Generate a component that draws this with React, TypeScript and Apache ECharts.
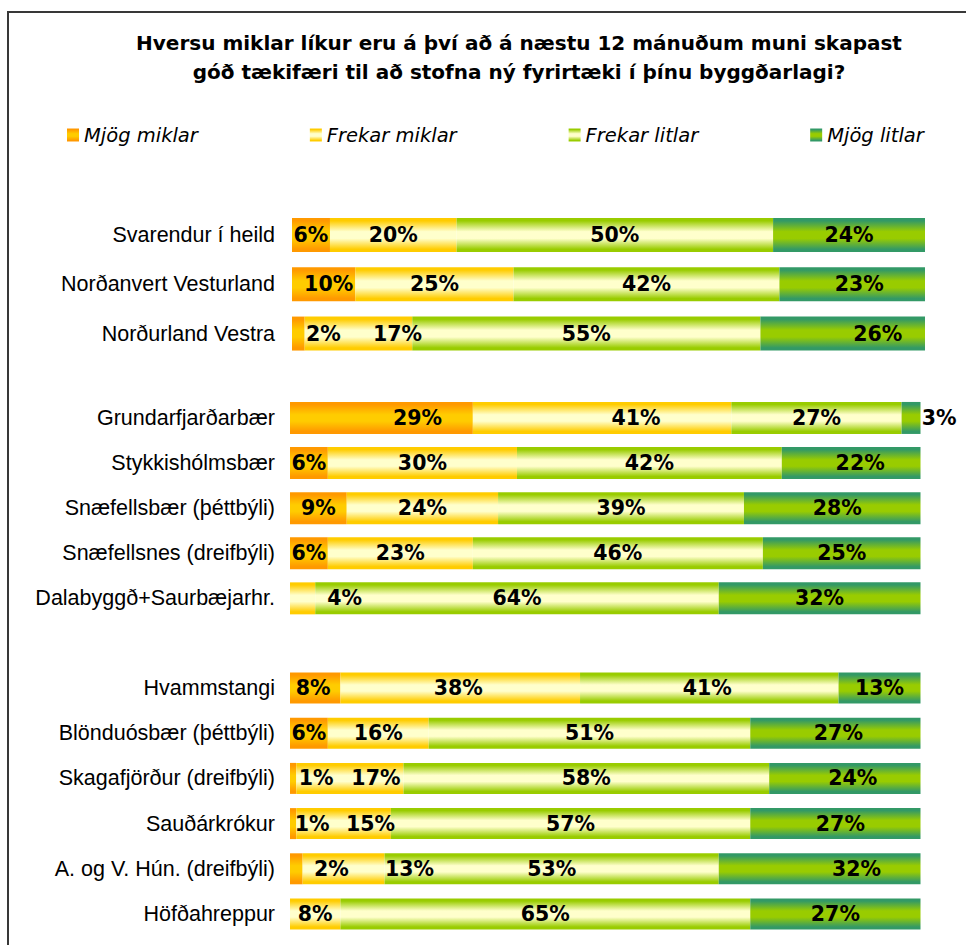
import React, { useEffect, useRef } from "react";
import * as echarts from "echarts";

// ---------- data ----------
const seriesNames = ["Mjög miklar", "Frekar miklar", "Frekar litlar", "Mjög litlar"];

const group1Categories = ["Svarendur í heild", "Norðanvert Vesturland", "Norðurland Vestra"];
const group1MjogMiklar = [6, 10, 2];
const group1FrekarMiklar = [20, 25, 17];
const group1FrekarLitlar = [50, 42, 55];
const group1MjogLitlar = [24, 23, 26];

const group2Categories = [
  "Grundarfjarðarbær",
  "Stykkishólmsbær",
  "Snæfellsbær (þéttbýli)",
  "Snæfellsnes (dreifbýli)",
  "Dalabyggð+Saurbæjarhr.",
];
const group2MjogMiklar = [29, 6, 9, 6, 0];
const group2FrekarMiklar = [41, 30, 24, 23, 4];
const group2FrekarLitlar = [27, 42, 39, 46, 64];
const group2MjogLitlar = [3, 22, 28, 25, 32];

const group3Categories = [
  "Hvammstangi",
  "Blönduósbær (þéttbýli)",
  "Skagafjörður (dreifbýli)",
  "Sauðárkrókur",
  "A. og V. Hún. (dreifbýli)",
  "Höfðahreppur",
];
const group3MjogMiklar = [8, 6, 1, 1, 2, 0];
const group3FrekarMiklar = [38, 16, 17, 15, 13, 8];
const group3FrekarLitlar = [41, 51, 58, 57, 53, 65];
const group3MjogLitlar = [13, 27, 24, 27, 32, 27];

const titleText =
  "Hversu miklar líkur eru á því að á næstu 12 mánuðum muni skapast\ngóð tækifæri til að stofna ný fyrirtæki í þínu byggðarlagi?";

// ---------- presentation (label nudges in px, per row: [MM, FM, FL, ML]) ----------
const group1LabelNudge = [
  [0, 0, 0, 0],
  [5, 0, 0, 7],
  [25, 39, 0, 35],
];
const group2LabelNudge = [
  [36, 34, 0, 28],
  [0, 0, 0, 9],
  [0, 0, 0, 5],
  [0, 0, 0, 0],
  [0, 42, 0, 0],
];
const group3LabelNudge = [
  [-2, -2, -2, 0],
  [0, 0, 0, 3],
  [23, 26, 0, 8],
  [19, 27, 0, 5],
  [35, 66, 0, 37],
  [0, 0, 0, 0],
];

const edgeColors = ["#FF9900", "#FFCC00", "#99CC00", "#339966"];
const midColors = ["#FFCC00", "#FFFFCC", "#FFFFCC", "#99CC00"];

function gradient(i: number) {
  return new echarts.graphic.LinearGradient(0, 0, 0, 1, [
    { offset: 0, color: edgeColors[i] },
    { offset: 0.08, color: edgeColors[i] },
    { offset: 0.4, color: midColors[i] },
    { offset: 0.6, color: midColors[i] },
    { offset: 0.92, color: edgeColors[i] },
    { offset: 1, color: edgeColors[i] },
  ]);
}

const LABEL_FONT = "'DejaVu Sans', Verdana, sans-serif";
const AXIS_FONT = "'Liberation Sans', Arial, sans-serif";

export default function App() {
  const ref = useRef<HTMLDivElement>(null);

  useEffect(() => {
    if (!ref.current) return;
    const chart = echarts.init(ref.current, null, { renderer: "svg" });

    const groups = [
      {
        cats: group1Categories,
        vals: [group1MjogMiklar, group1FrekarMiklar, group1FrekarLitlar, group1MjogLitlar],
        nudge: group1LabelNudge,
        grid: { left: 292, right: 41, top: 210.4, height: 147.8 },
        barWidth: 34,
        margin: 17,
      },
      {
        cats: group2Categories,
        vals: [group2MjogMiklar, group2FrekarMiklar, group2FrekarLitlar, group2MjogLitlar],
        nudge: group2LabelNudge,
        grid: { left: 290, right: 45.5, top: 395.4, height: 225.5 },
        barWidth: 32,
        margin: 15,
      },
      {
        cats: group3Categories,
        vals: [group3MjogMiklar, group3FrekarMiklar, group3FrekarLitlar, group3MjogLitlar],
        nudge: group3LabelNudge,
        grid: { left: 290, right: 45.5, top: 665.4, height: 271.2 },
        barWidth: 31,
        margin: 15,
      },
    ];

    const series: any[] = [];
    groups.forEach((g, gi) => {
      g.vals.forEach((arr, si) => {
        series.push({
          type: "bar",
          name: seriesNames[si],
          stack: "g" + gi,
          xAxisIndex: gi,
          yAxisIndex: gi,
          barWidth: g.barWidth,
          itemStyle: { color: gradient(si) },
          label: {
            show: true,
            position: "inside",
            formatter: "{c}%",
            color: "#000",
            fontFamily: LABEL_FONT,
            fontWeight: "bold",
            fontSize: 20.5,
          },
          data: arr.map((v, ri) => ({
            value: v,
            label: v === 0 ? { show: false } : { offset: [g.nudge[ri][si], 0] },
          })),
        });
      });
    });

    chart.setOption({
      animation: false,
      backgroundColor: "#fff",
      title: {
        text: titleText,
        left: 514,
        textAlign: "center",
        top: 23,
        textStyle: {
          fontFamily: LABEL_FONT,
          fontWeight: "bold",
          fontSize: 20,
          lineHeight: 29,
          color: "#000",
        },
      },
      legend: {
        data: seriesNames,
        left: 62,
        top: 120,
        icon: "rect",
        itemWidth: 12,
        itemHeight: 13,
        itemGap: 112,
        textStyle: {
          fontFamily: LABEL_FONT,
          fontStyle: "italic",
          fontSize: 19.5,
          color: "#000",
        },
      },
      grid: groups.map((g) => ({ ...g.grid, containLabel: false })),
      xAxis: groups.map((_, gi) => ({
        type: "value",
        gridIndex: gi,
        min: 0,
        max: 100,
        show: false,
      })),
      yAxis: groups.map((g, gi) => ({
        type: "category",
        gridIndex: gi,
        inverse: true,
        data: g.cats,
        axisLine: { show: false },
        axisTick: { show: false },
        splitLine: { show: false },
        axisLabel: {
          margin: g.margin,
          color: "#000",
          fontFamily: AXIS_FONT,
          fontSize: 21.5,
        },
      })),
      graphic: [
        {
          type: "rect",
          shape: { x: 8, y: 12, width: 1000, height: 1000 },
          style: { fill: "none", stroke: "#383838", lineWidth: 2 },
          silent: true,
          z: -1,
        },
      ],
      series,
    });

    return () => chart.dispose();
  }, []);

  return (
    <div
      ref={ref}
      style={{ position: "absolute", left: 0, top: 0, width: 966, height: 945 }}
    />
  );
}
